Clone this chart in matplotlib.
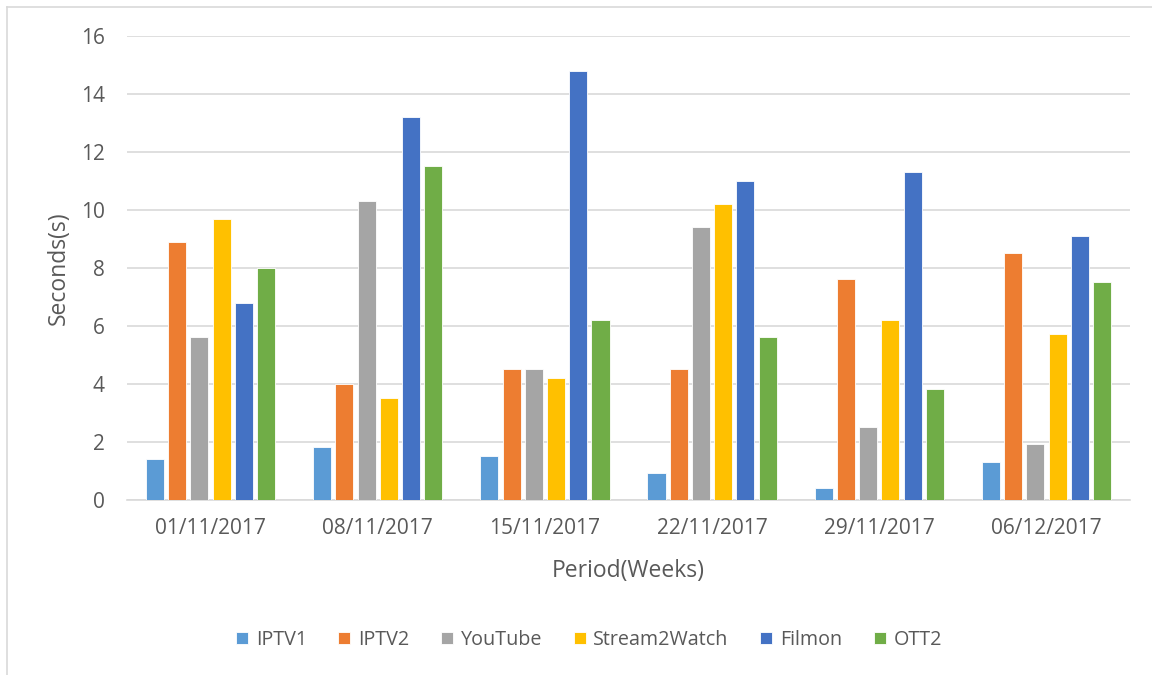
import matplotlib
matplotlib.use("Agg")
import matplotlib.pyplot as plt
import numpy as np
from matplotlib.lines import Line2D

categories = ["01/11/2017", "08/11/2017", "15/11/2017", "22/11/2017", "29/11/2017", "06/12/2017"]
series_names = ["IPTV1", "IPTV2", "YouTube", "Stream2Watch", "Filmon", "OTT2"]
iptv1 = [1.4, 1.8, 1.5, 0.9, 0.4, 1.3]
iptv2 = [8.9, 4.0, 4.5, 4.5, 7.6, 8.5]
youtube = [5.6, 10.3, 4.5, 9.4, 2.5, 1.9]
stream2watch = [9.7, 3.5, 4.2, 10.2, 6.2, 5.7]
filmon = [6.8, 13.2, 14.8, 11.0, 11.3, 9.1]
ott2 = [8.0, 11.5, 6.2, 5.6, 3.8, 7.5]
colors = ["#5B9BD5", "#ED7D31", "#A5A5A5", "#FFC000", "#4472C4", "#70AD47"]
yticks = [0, 2, 4, 6, 8, 10, 12, 14, 16]

plt.rcParams['font.family'] = ['Open Sans', 'DejaVu Sans']
TXT = '#595959'
W, H = 1152, 675
fig = plt.figure(figsize=(W/100, H/100), dpi=100)
ax = fig.add_axes([127/W, 1-499.5/H, (1130-127)/W, (499.5-36)/H])

data = [iptv1, iptv2, youtube, stream2watch, filmon, ott2]
x = np.arange(len(categories))
step = 0.133
bw = 0.108
for i, (name, vals, c) in enumerate(zip(series_names, data, colors)):
    ax.bar(x + (i - 2.5) * step, vals, width=bw, color=c, label=name,
           edgecolor="white", linewidth=0.6, zorder=3)

ax.set_xlim(-0.5, len(categories) - 0.5)
ax.set_ylim(0, 16)
ax.set_yticks(yticks)
ax.set_xticks(x)
ax.set_xticklabels(categories)
ax.grid(axis='y', color='#D9D9D9', linewidth=1.2, zorder=0)
for s in ['top', 'right', 'left']:
    ax.spines[s].set_visible(False)
ax.spines['bottom'].set_color('#D9D9D9')
ax.spines['bottom'].set_linewidth(1.2)
ax.tick_params(axis='both', length=0, colors=TXT, labelsize=15)
ax.tick_params(axis='y', pad=16)
ax.tick_params(axis='x', pad=13)

fig.text(59/W, 1-268/H, "Seconds(s)", rotation=90, ha='center', va='center',
         fontsize=16.5, color=TXT)
fig.text((127+1130)/2/W, 1-571/H, "Period(Weeks)", ha='center', va='center',
         fontsize=16.5, color=TXT)

leg = fig.legend(loc='center', bbox_to_anchor=(589/W, 1-640/H), ncol=6, frameon=False,
                 fontsize=14.2, handlelength=0.6, handleheight=0.6, handletextpad=0.4,
                 columnspacing=1.6)
for t in leg.get_texts():
    t.set_color(TXT)

fig.add_artist(Line2D([7/W, 7/W], [0, 1-7/H], transform=fig.transFigure,
                      color='#D9D9D9', linewidth=1.2))
fig.add_artist(Line2D([7/W, 1], [1-7/H, 1-7/H], transform=fig.transFigure,
                      color='#D9D9D9', linewidth=1.2))

fig.savefig("out.png", dpi=100)
